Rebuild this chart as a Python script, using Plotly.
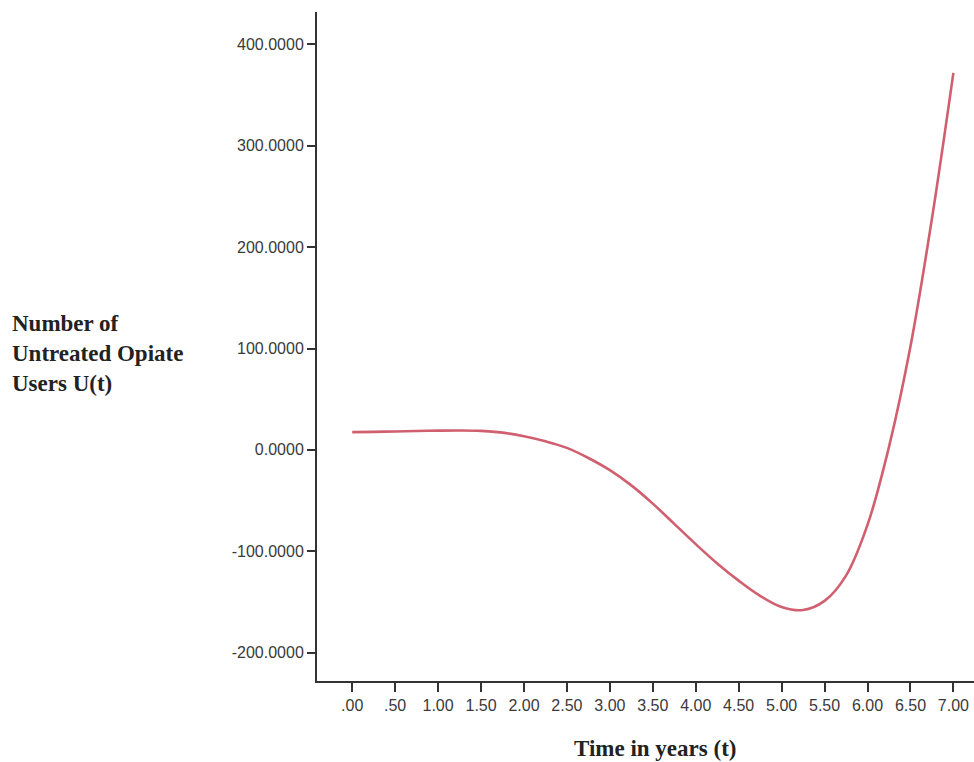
import plotly.graph_objects as go

# Time in years and the fitted number of untreated opiate users U(t)
t_years = [0.0, 0.25, 0.5, 0.75, 1.0, 1.25, 1.5, 1.75, 2.0, 2.25, 2.5, 2.75,
           3.0, 3.25, 3.5, 3.75, 4.0, 4.25, 4.5, 4.75, 5.0, 5.25, 5.5, 5.75,
           6.0, 6.25, 6.5, 6.75, 7.0]
u_values = [17.5, 17.8, 18.2, 18.6, 19.0, 19.2, 18.8, 17.0, 13.5, 8.5, 2.0, -8.0,
            -20.0, -35.0, -53.0, -73.0, -93.0, -112.0, -129.0, -144.0, -155.0, -158.0, -149.0, -124.0,
            -74.0, 3.0, 102.0, 228.0, 372.0]

x_tick_vals = [0.0, 0.5, 1.0, 1.5, 2.0, 2.5, 3.0, 3.5, 4.0, 4.5, 5.0, 5.5, 6.0, 6.5, 7.0]
x_tick_text = [".00", ".50", "1.00", "1.50", "2.00", "2.50", "3.00", "3.50",
               "4.00", "4.50", "5.00", "5.50", "6.00", "6.50", "7.00"]
y_tick_vals = [-200, -100, 0, 100, 200, 300, 400]
y_tick_text = ["-200.0000", "-100.0000", "0.0000", "100.0000", "200.0000", "300.0000", "400.0000"]

fig = go.Figure()
fig.add_trace(go.Scatter(
    x=t_years, y=u_values, mode="lines",
    line=dict(color="#d0606f", width=2.6, shape="spline", smoothing=1.0),
    showlegend=False, hoverinfo="x+y",
))

tick_font = dict(family="Liberation Sans, Arial, sans-serif", size=16, color="#3a3a3a")
title_font = dict(family="Liberation Serif, Times New Roman, serif", size=23, color="#222222")

fig.update_layout(
    width=974, height=762,
    margin=dict(l=317, r=0, t=12, b=81),
    paper_bgcolor="white", plot_bgcolor="white",
    xaxis=dict(
        range=[-0.41, 7.24], tickvals=x_tick_vals, ticktext=x_tick_text,
        showgrid=False, zeroline=False, showline=True, linecolor="#333333", linewidth=2,
        ticks="outside", ticklen=9, tickwidth=1.5, tickcolor="#333333",
        tickfont=tick_font,
    ),
    yaxis=dict(
        range=[-228, 432], tickvals=y_tick_vals, ticktext=y_tick_text,
        showgrid=False, zeroline=False, showline=True, linecolor="#333333", linewidth=2,
        ticks="outside", ticklen=8, tickwidth=1.5, tickcolor="#333333",
        tickfont=tick_font,
    ),
    annotations=[
        dict(text="<b>Number of<br>Untreated Opiate<br>Users U(t)</b>",
             xref="paper", yref="paper", x=-307 / 657, y=(681 - 354) / 669,
             xanchor="left", yanchor="middle", align="left", showarrow=False,
             font=title_font),
        dict(text="<b>Time in years (t)</b>",
             xref="paper", yref="paper", x=(655 - 317) / 657, y=0,
             xanchor="center", yanchor="middle", yshift=-67, showarrow=False,
             font=title_font),
    ],
)

fig.write_html("out.html")
